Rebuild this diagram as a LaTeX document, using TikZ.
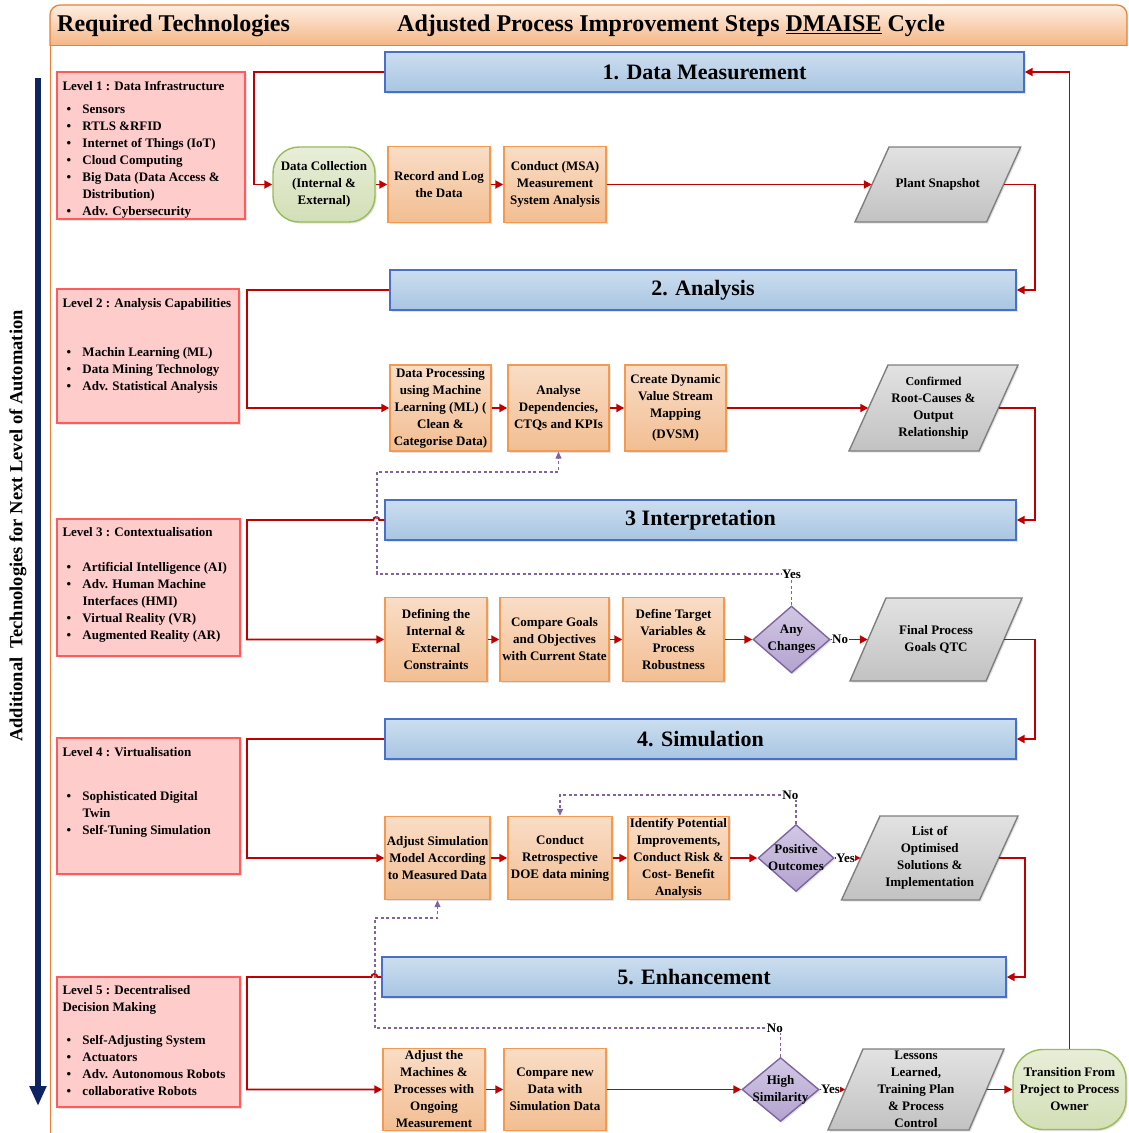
\documentclass[tikz,border=0pt]{standalone}
\usepackage{fontspec}
\setmainfont{Liberation Serif}
\usetikzlibrary{arrows.meta,shapes.geometric,shadows,calc}
\definecolor{redln}{HTML}{C00000}
\definecolor{purln}{HTML}{8064A2}
\definecolor{otop}{HTML}{F9DDC6}
\definecolor{obot}{HTML}{F2BE92}
\definecolor{obor}{HTML}{F39A50}
\definecolor{gtop}{HTML}{E2E2E2}
\definecolor{gbot}{HTML}{C2C2C2}
\definecolor{gbor}{HTML}{7F7F7F}
\definecolor{dtop}{HTML}{D2C8E4}
\definecolor{dbot}{HTML}{B3A3CF}
\definecolor{dbor}{HTML}{8064A2}
\definecolor{grtop}{HTML}{E8EED8}
\definecolor{grbot}{HTML}{D2DFB6}
\definecolor{grbor}{HTML}{9BBB59}
\definecolor{btop}{HTML}{CCDEEF}
\definecolor{bbot}{HTML}{A8C5E2}
\definecolor{bbor}{HTML}{4A6FC6}
\definecolor{pfill}{HTML}{FFCCCC}
\definecolor{pbor}{HTML}{FF5B5B}
\definecolor{htop}{HTML}{FDEEE2}
\definecolor{hbot}{HTML}{F2A86E}
\definecolor{hbor}{HTML}{ED7D31}
\definecolor{navy}{HTML}{0F2460}
\newcommand\lvitem[1]{\hspace*{4pt}\makebox[16pt][l]{\textbullet}#1}
\newcommand\lvcont[1]{\hspace*{20pt}#1}
% name, cx, cy, total width, height, slant, text
\newcommand\mkpara[7]{%
  \path[gpara] (#2-#4/2+#6,#3-#5/2) -- (#2+#4/2,#3-#5/2) -- (#2+#4/2-#6,#3+#5/2) -- (#2-#4/2,#3+#5/2) -- cycle;
  \node[bt, minimum width=#4pt-#6pt, minimum height=#5pt] (#1) at (#2,#3) {#7};
}
\tikzset{
  bt/.style={font=\fontsize{13}{17}\selectfont\bfseries, align=center, inner sep=1pt},
  shd/.style={drop shadow={opacity=0.22, shadow xshift=1.5pt, shadow yshift=-1.5pt}},
  obox/.style={bt, draw=obor, line width=1.4pt, top color=otop, bottom color=obot, shd},
  gbox/.style={bt, draw=grbor, line width=1.4pt, top color=grtop, bottom color=grbot, rounded corners=26pt, shd},
  dbox/.style={diamond, draw=dbor, line width=1.4pt, top color=dtop, bottom color=dbot, inner sep=0pt, shd},
  hbox/.style={draw=bbor, line width=1.4pt, top color=btop, bottom color=bbot, font=\fontsize{22}{24}\selectfont\bfseries, shd},
  lbox/.style={draw=pbor, line width=1.4pt, fill=pfill, shd},
  ltxt/.style={font=\fontsize{13}{17}\selectfont\bfseries, align=left, inner sep=0pt, anchor=north west},
  gpara/.style={draw=gbor, line width=1.4pt, top color=gtop, bottom color=gbot, shd},
  ra/.style={draw=redln, line width=1.9pt, -{Triangle[length=8pt,width=8pt]}},
  da/.style={draw=purln, line width=1.3pt, dash pattern=on 3pt off 2.5pt, -{Triangle[length=7pt,width=6pt]}},
  lbl/.style={font=\fontsize{13}{15}\selectfont\bfseries, fill=white, inner sep=0.5pt},
}
\begin{document}
\begin{tikzpicture}[x=1pt,y=-1pt]
\useasboundingbox (0,0) rectangle (1129,1133);
\fill[white] (0,0) rectangle (1129,1133);
% header band
\begin{scope}
\clip (0,0) rectangle (1129,45);
\path[top color=htop, bottom color=hbot, draw=hbor, line width=1.2pt, rounded corners=10pt] (50,5) rectangle (1127,56);
\end{scope}
\draw[hbor, line width=1pt] (50,45) -- (1127,45);
\draw[hbor, line width=1pt] (50,45) -- (50,1133);
\node[font=\fontsize{24}{26}\selectfont\bfseries, anchor=west, inner sep=0pt] (rtt) at (57,26) {Required Technologies};
\node[font=\fontsize{24}{26}\selectfont\bfseries, anchor=west, inner sep=0pt] (att) at (397,26) {Adjusted Process Improvement Steps \underline{DMAISE} Cycle};
% navy arrow and vertical text
\coordinate (na) at (38,78);
\coordinate (nb) at (38,1106);
\draw[navy, line width=5.5pt, -{Triangle[length=20pt,width=16pt]}] (na) -- (nb);
\node[rotate=90, font=\fontsize{18.5}{20}\selectfont\bfseries, inner sep=0pt] (vt) at (18,526) {Additional\ \ Technologies for Next Level of Automation};
% level boxes
\node[lbox, minimum width=188pt, minimum height=147pt] (l1) at (151,145.5) {};
\node[ltxt] at ([xshift=6pt,yshift=-10pt]l1.north west) {Level 1 : Data Infrastructure\\[6pt]
\lvitem{Sensors}\\ \lvitem{RTLS \&RFID}\\ \lvitem{Internet of Things (IoT)}\\ \lvitem{Cloud Computing}\\
\lvitem{Big Data (Data Access \&}\\ \lvcont{Distribution)}\\ \lvitem{Adv. Cybersecurity}};
\node[lbox, minimum width=182pt, minimum height=134pt] (l2) at (148,356) {};
\node[ltxt] at ([xshift=6pt,yshift=-10pt]l2.north west) {Level 2 : Analysis Capabilities\\[32pt]
\lvitem{Machin Learning (ML)}\\ \lvitem{Data Mining Technology}\\ \lvitem{Adv. Statistical Analysis}};
\node[lbox, minimum width=183pt, minimum height=137pt] (l3) at (148.5,587.5) {};
\node[ltxt] at ([xshift=6pt,yshift=-9pt]l3.north west) {Level 3 : Contextualisation\\[18pt]
\lvitem{Artificial Intelligence (AI)}\\ \lvitem{Adv. Human Machine}\\ \lvcont{Interfaces (HMI)}\\ \lvitem{Virtual Reality (VR)}\\ \lvitem{Augmented Reality (AR)}};
\node[lbox, minimum width=183pt, minimum height=136pt] (l4) at (148.5,806) {};
\node[ltxt] at ([xshift=6pt,yshift=-10pt]l4.north west) {Level 4 : Virtualisation\\[27pt]
\lvitem{Sophisticated Digital}\\ \lvcont{Twin}\\ \lvitem{Self-Tuning Simulation}};
\node[lbox, minimum width=183pt, minimum height=130pt] (l5) at (148.5,1042) {};
\node[ltxt] at ([xshift=6pt,yshift=-9pt]l5.north west) {Level 5 : Decentralised\\Decision Making\\[16pt]
\lvitem{Self-Adjusting System}\\ \lvitem{Actuators}\\ \lvitem{Adv. Autonomous Robots}\\ \lvitem{collaborative Robots}};
% step headers
\node[hbox, minimum width=639pt, minimum height=40pt] (h1) at (704.5,72) {1. Data Measurement};
\node[hbox, minimum width=626pt, minimum height=40pt] (h2) at (703,290) {2. Analysis};
\node[hbox, minimum width=631pt, minimum height=40pt] (h3) at (700.5,520) {3 Interpretation};
\node[hbox, minimum width=631pt, minimum height=40pt] (h4) at (700.5,739) {4. Simulation};
\node[hbox, minimum width=624pt, minimum height=40pt] (h5) at (694,977) {5. Enhancement};
% row 1
\node[gbox, minimum width=102pt, minimum height=75pt] (dc) at (324,184.5) {Data Collection\\(Internal \&\\External)};
\node[obox, minimum width=102pt, minimum height=76pt] (rl) at (439,184.5) {Record and Log\\the Data};
\node[obox, minimum width=102pt, minimum height=76pt] (msa) at (555,184.5) {Conduct (MSA)\\Measurement\\System Analysis};
\mkpara{ps}{937.8}{184.5}{165.6}{75}{34}{Plant Snapshot}
% row 2
\node[obox, minimum width=101pt, minimum height=86pt] (dp) at (440.5,408) {Data Processing\\using Machine\\Learning (ML) (\\Clean \&\\Categorise Data)};
\node[obox, minimum width=101pt, minimum height=86pt] (ad) at (558.5,408) {Analyse\\Dependencies,\\CTQs and KPIs};
\node[obox, minimum width=101pt, minimum height=86pt] (dv) at (675.5,408) {Create Dynamic\\Value Stream\\Mapping\\[4pt](DVSM)};
\mkpara{cr}{933.5}{408}{169}{86}{39}{\fontsize{12}{16}\selectfont Confirmed\\Root-Causes \&\\Output\\Relationship}
% row 3
\node[obox, minimum width=102pt, minimum height=84pt] (de) at (436,639.5) {Defining the\\Internal \&\\External\\Constraints};
\node[obox, minimum width=109pt, minimum height=84pt] (cg) at (554.5,639.5) {Compare Goals\\and Objectives\\with Current State};
\node[obox, minimum width=101pt, minimum height=84pt] (dt) at (673.5,639.5) {Define Target\\Variables \&\\Process\\Robustness};
\node[dbox, minimum width=77pt, minimum height=67pt] (ac) at (791.5,639.5) {};
\node[bt] (act) at (ac) {Any\\Changes};
\mkpara{fp}{936}{639.5}{172}{83}{36}{Final Process\\Goals QTC}
% row 4
\node[obox, minimum width=105pt, minimum height=83pt] (as) at (437.5,858) {Adjust Simulation\\Model According\\to Measured Data};
\node[obox, minimum width=104pt, minimum height=83pt] (rd) at (560,858) {Conduct\\Retrospective\\DOE data mining};
\node[obox, minimum width=101pt, minimum height=83pt] (ip) at (678.5,858) {Identify Potential\\Improvements,\\Conduct Risk \&\\Cost- Benefit\\Analysis};
\node[dbox, minimum width=76pt, minimum height=67pt] (po) at (796,858) {};
\node[bt] (pot) at (po) {Positive\\Outcomes};
\mkpara{lo}{929.75}{858}{176.5}{84}{38.5}{List of\\Optimised\\Solutions \&\\Implementation}
% row 5
\node[obox, minimum width=102pt, minimum height=82pt] (am) at (434,1089.5) {Adjust the\\Machines \&\\Processes with\\Ongoing\\Measurement};
\node[obox, minimum width=102pt, minimum height=82pt] (cn) at (555,1089.5) {Compare new\\Data with\\Simulation Data};
\node[dbox, minimum width=77pt, minimum height=64pt] (hs) at (780.5,1089.5) {};
\node[bt] (hst) at (hs) {High\\Similarity};
\mkpara{ll}{916}{1089.5}{176}{81}{35}{Lessons\\Learned,\\Training Plan\\\& Process\\Control}
\node[gbox, minimum width=113pt, minimum height=80pt, rounded corners=30pt] (tr) at (1069.5,1089.5) {Transition From\\Project to Process\\Owner};
% coordinates for connectors
\coordinate (k1) at (254,72);
\coordinate (k2) at (247,290);
\coordinate (k3) at (247,520);
\coordinate (k4) at (247,739);
\coordinate (k5) at (247,977);
\coordinate (c1) at (1035,290);
\coordinate (c2) at (1035,520);
\coordinate (c3) at (1035,739);
\coordinate (c4) at (1025,977);
% red connectors
\draw[ra] (h1.west) -- (k1) |- (dc.west);
\draw[ra] (dc.east) -- (rl.west);
\draw[ra] (rl.east) -- (msa.west);
\draw[ra] (msa.east) -- (ps.west);
\draw[ra] (ps.east) -| (c1) -- (h2.east);
\draw[ra] (h2.west) -- (k2) |- (dp.west);
\draw[ra] (dp.east) -- (ad.west);
\draw[ra] (ad.east) -- (dv.west);
\draw[ra] (dv.east) -- (cr.west);
\draw[ra] (cr.east) -| (c2) -- (h3.east);
\draw[ra] (h3.west) -- ++(-5,0) arc[start angle=0, end angle=180, radius=3pt] -- (k3) |- (de.west);
\draw[ra] (de.east) -- (cg.west);
\draw[ra] (cg.east) -- (dt.west);
\draw[ra] (dt.east) -- (ac.west);
\draw[ra] (ac.east) -- node[lbl, pos=0, anchor=west] {No} (fp.west);
\draw[ra] (fp.east) -| (c3) -- (h4.east);
\draw[ra] (h4.west) -- (k4) |- (as.west);
\draw[ra] (as.east) -- (rd.west);
\draw[ra] (rd.east) -- (ip.west);
\draw[ra] (ip.east) -- (po.west);
\draw[ra] (po.east) -- node[lbl, pos=0, anchor=west] {Yes} (lo.west);
\draw[ra] (lo.east) -| (c4) -- (h5.east);
\draw[ra] (h5.west) -- ++(-4,0) arc[start angle=0, end angle=180, radius=3pt] -- (k5) |- (am.west);
\draw[ra] (am.east) -- (cn.west);
\draw[ra] (cn.east) -- (hs.west);
\draw[ra] (hs.east) -- node[lbl, pos=0, anchor=west] {Yes} (ll.west);
\draw[ra] (ll.east) -- (tr.west);
\draw[ra] (tr.north) |- (h1.east);
% dashed feedback loops
\coordinate (y1) at (377,574);
\coordinate (y2) at (377,472);
\draw[da] (ac.north) |- (y1) -- (y2) -| (ad.south);
\node[lbl] (yes1) at (ac.north |- y1) {Yes};
\coordinate (n1) at (560,795);
\draw[da] (po.north) |- (n1) -- (rd.north);
\node[lbl, anchor=east] (no1) at ([xshift=3pt]po.north |- n1) {No};
\coordinate (m1) at (375,1028);
\coordinate (m2) at (375,918);
\draw[da] (hs.north) |- (m1) -- (m2) -| (as.south);
\node[lbl, anchor=east] (no2) at ([xshift=3pt]hs.north |- m1) {No};
\end{tikzpicture}
\end{document}
